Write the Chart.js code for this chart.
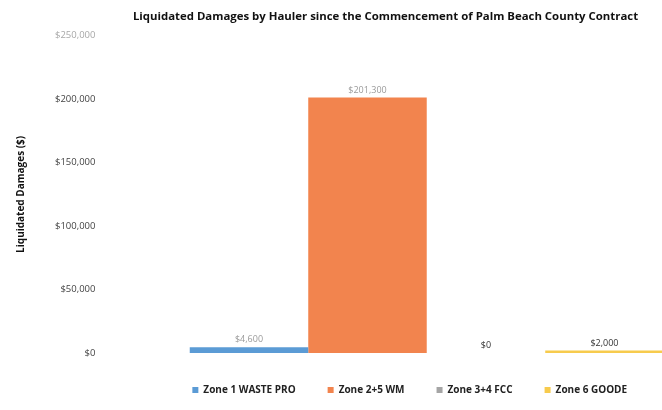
<!DOCTYPE html>
<html>
<head>
<meta charset="utf-8">
<script src="https://cdn.jsdelivr.net/npm/chart.js@4/dist/chart.umd.min.js"></script>
<style>
    html, body { margin: 0; padding: 0; background: #fff; overflow: hidden; }
    #wrap { width: 770px; height: 410px; }
</style>
</head>
<body>
<div id="wrap"><canvas id="chart" width="770" height="410"></canvas></div>
<script>
const categories = [''];
const haulers = ['Zone 1 WASTE PRO', 'Zone 2+5 WM', 'Zone 3+4 FCC', 'Zone 6 GOODE'];
const damages = [4600, 201300, 0, 2000];
const yTicks = [0, 50000, 100000, 150000, 200000, 250000];

const barColors = ['#5B9BD5', '#F2844E', '#A5A5A5', '#F7CB4D'];
const labelColors = ['#9a9a9a', '#9a9a9a', '#333333', '#333333'];

const money = (value) => '$' + Number(value).toLocaleString('en-US');

const valueLabels = {
    id: 'valueLabels',
    afterDatasetsDraw(chart) {
        const { ctx } = chart;
        ctx.save();
        ctx.font = '9px "Open Sans"';
        ctx.textAlign = 'center';
        ctx.textBaseline = 'bottom';
        chart.data.datasets.forEach((dataset, index) => {
            const bar = chart.getDatasetMeta(index).data[0];
            ctx.fillStyle = labelColors[index];
            ctx.fillText(money(dataset.data[0]), bar.x, bar.y - 3);
        });
        ctx.restore();
    },
};

// legend sits a bit left of the bar group and the title a bit right, like the original
const boxNudge = {
    id: 'boxNudge',
    afterLayout(chart) {
        chart.legend.left -= 17;
        chart.legend.right -= 17;
        chart.titleBlock.left += 6;
        chart.titleBlock.right += 6;
    },
};

new Chart(document.getElementById('chart'), {
    type: 'bar',
    data: {
        labels: categories,
        datasets: haulers.map((name, index) => ({
            label: name,
            data: [damages[index]],
            backgroundColor: barColors[index],
            borderWidth: 0,
        })),
    },
    options: {
        responsive: false,
        animation: false,
        categoryPercentage: 0.747,
        barPercentage: 1,
        layout: {
            padding: { top: 0, right: 26, bottom: 5, left: 15 },
        },
        scales: {
            x: { display: false },
            y: {
                min: 0,
                max: 250000,
                afterBuildTicks: (axis) => {
                    axis.ticks = yTicks.map((value) => ({ value }));
                },
                grid: { display: false },
                border: { display: false },
                ticks: {
                    padding: 6,
                    font: { family: 'Open Sans', size: 9.5 },
                    color: (ctx) => ctx.tick.value === 250000 ? '#a8a8a8' : '#444444',
                    callback: (value) => money(value),
                },
                title: {
                    display: true,
                    text: 'Liquidated Damages ($)',
                    color: '#111',
                    font: { family: 'Open Sans', size: 10, weight: 'bold' },
                    padding: { top: 0, bottom: 22 },
                },
            },
        },
        plugins: {
            title: {
                display: true,
                text: 'Liquidated Damages by Hauler since the Commencement of Palm Beach County Contract',
                color: '#111',
                font: { family: 'Open Sans', size: 11.4, weight: 'bold' },
                padding: { top: 10, bottom: 12 },
            },
            legend: {
                position: 'bottom',
                fullSize: false,
                labels: {
                    boxWidth: 6,
                    boxHeight: 6,
                    padding: 32,
                    color: '#222',
                    font: { family: 'Open Sans', size: 10, weight: 'bold' },
                },
            },
            tooltip: { enabled: false },
        },
    },
    plugins: [valueLabels, boxNudge],
});
</script>
</body>
</html>
